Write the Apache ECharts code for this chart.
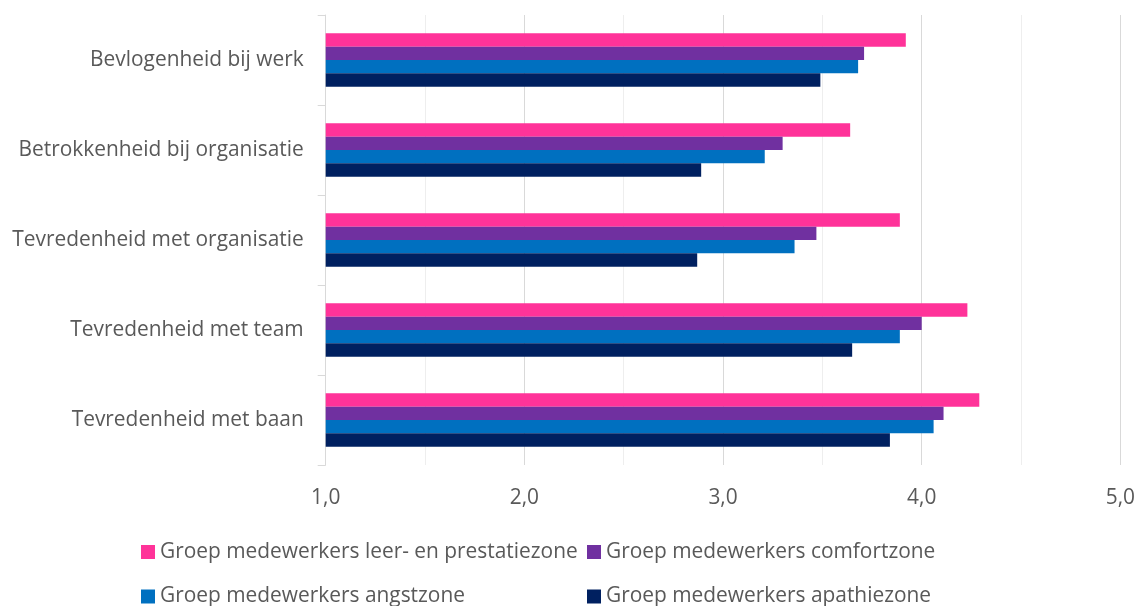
<!DOCTYPE html>
<html>
<head>
<meta charset="utf-8">
<script src="https://cdn.jsdelivr.net/npm/echarts@6/dist/echarts.min.js"></script>
<style>
  html, body { margin: 0; padding: 0; background: #ffffff; }
  #chart { width: 1138px; height: 606px; }
</style>
</head>
<body>
<div id="chart"></div>
<script>
// Categories, top to bottom
const categories = [
  'Bevlogenheid bij werk',
  'Betrokkenheid bij organisatie',
  'Tevredenheid met organisatie',
  'Tevredenheid met team',
  'Tevredenheid met baan'
];

const seriesNames = [
  'Groep medewerkers leer- en prestatiezone',
  'Groep medewerkers comfortzone',
  'Groep medewerkers angstzone',
  'Groep medewerkers apathiezone'
];

// Mean scores per group, same order as categories
const leerPrestatie = [3.92, 3.64, 3.89, 4.23, 4.29];
const comfort      = [3.71, 3.30, 3.47, 4.00, 4.11];
const angst        = [3.68, 3.21, 3.36, 3.89, 4.06];
const apathie      = [3.49, 2.89, 2.87, 3.65, 3.84];

const seriesValues = [leerPrestatie, comfort, angst, apathie];
const colors = ['#FF3399', '#7030A0', '#0070C0', '#002060'];

const FONT = '"Open Sans"';
const TEXT = '#595959';
const FS = 20.9;

// legend entries laid out as a 2 x 2 grid
const legendSlots = [
  { left: 141, top: 541.5 },
  { left: 587, top: 541.5 },
  { left: 141, top: 586 },
  { left: 587, top: 586 }
];

const chart = echarts.init(document.getElementById('chart'), null, { renderer: 'canvas' });

chart.setOption({
  animation: false,
  textStyle: { fontFamily: FONT },
  color: colors,
  grid: { left: 325.7, right: 17.6, top: 15, bottom: 141, containLabel: false },
  legend: seriesNames.map(function (name, i) {
    return {
      left: legendSlots[i].left,
      top: legendSlots[i].top,
      data: [name],
      itemWidth: 14,
      itemHeight: 14,
      icon: 'rect',
      selectedMode: false,
      padding: 0,
      textStyle: { color: TEXT, fontFamily: FONT, fontSize: FS, lineHeight: 14 }
    };
  }),
  xAxis: {
    type: 'value',
    min: 1,
    max: 5,
    interval: 0.5,
    axisLine: { show: false },
    axisTick: { show: false },
    splitLine: { show: true, lineStyle: { color: ['#d9d9d9', '#eeeeee'], width: 1 } },
    axisLabel: {
      color: TEXT, fontFamily: FONT, fontSize: FS, margin: 22.5,
      formatter: function (v) {
        return Math.abs(v - Math.round(v)) < 1e-9 ? v.toFixed(1).replace('.', ',') : '';
      }
    }
  },
  yAxis: {
    type: 'category',
    inverse: true,
    data: categories,
    axisLine: { show: true, lineStyle: { color: '#d9d9d9', width: 1 } },
    axisTick: { show: true, length: 8, lineStyle: { color: '#d9d9d9' } },
    axisLabel: { color: TEXT, fontFamily: FONT, fontSize: FS, margin: 22, padding: [3, 0, 0, 0] }
  },
  series: seriesNames.map(function (name, i) {
    return {
      name: name,
      type: 'bar',
      data: seriesValues[i],
      barGap: '0%',
      barCategoryGap: '40.6%',
      itemStyle: { color: colors[i] }
    };
  })
});
</script>
</body>
</html>
